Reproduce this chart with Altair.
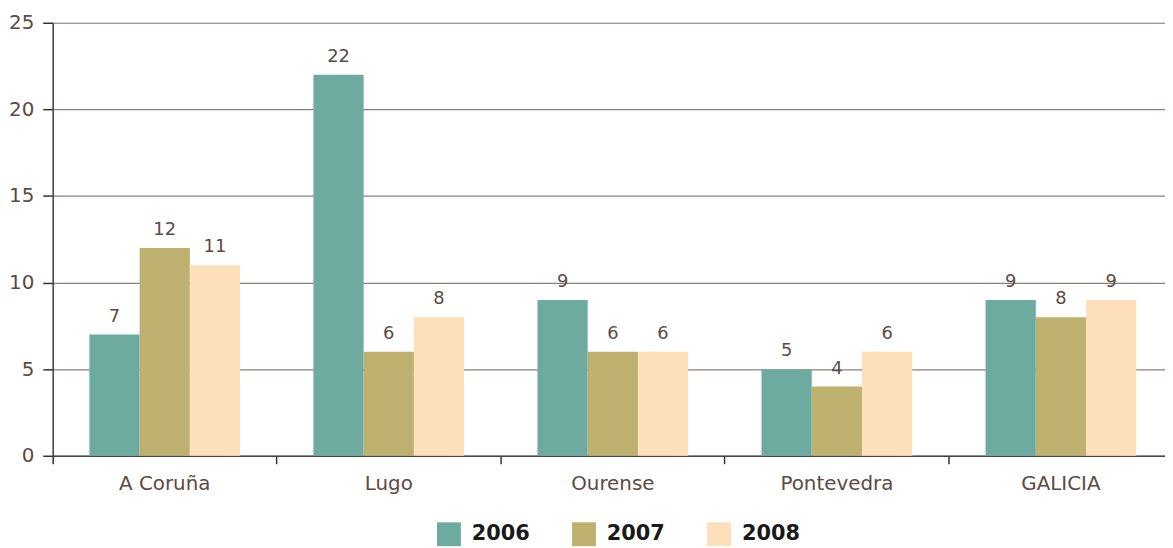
import altair as alt
import pandas as pd

regions = ["A Coruña", "Lugo", "Ourense", "Pontevedra", "GALICIA"]
years = ["2006", "2007", "2008"]
v2006 = [7, 22, 9, 5, 9]
v2007 = [12, 6, 6, 4, 8]
v2008 = [11, 8, 6, 6, 9]
colors = ["#6DAAA0", "#BEB06E", "#FDE0BA"]

rows = []
for yr, vals in zip(years, [v2006, v2007, v2008]):
    for r, v in zip(regions, vals):
        rows.append({"region": r, "year": yr, "value": v})
df = pd.DataFrame(rows)

W = 1120
H = 436
txt = "#5B4B43"
font = "DejaVu Sans"

x = alt.X(
    "region:N", sort=regions, title=None,
    scale=alt.Scale(paddingInner=0, paddingOuter=0, range=[0, 1128]),
    axis=alt.Axis(
        bandPosition=0, labelAngle=0,
        ticks=True, tickSize=8, tickColor="#333333", tickWidth=1.5,
        domain=True, domainColor="#444444", domainWidth=1.5,
        labelFont=font, labelFontSize=20, labelColor=txt, labelPadding=10,
        grid=False,
    ),
)
xo = alt.XOffset("year:N", sort=years, scale=alt.Scale(paddingInner=0, paddingOuter=0.73))
y = alt.Y(
    "value:Q", title=None,
    scale=alt.Scale(domain=[0, 25], nice=False),
    axis=alt.Axis(
        values=[0, 5, 10, 15, 20, 25], grid=True, gridColor="#8C7F78", gridWidth=1.2,
        domain=True, domainColor="#444444", domainWidth=1.5,
        ticks=True, tickSize=10, tickColor="#333333", tickWidth=1.5,
        labelFont=font, labelFontSize=20, labelColor=txt, labelPadding=9,
    ),
)
color = alt.Color(
    "year:N", sort=years,
    scale=alt.Scale(domain=years, range=colors),
    legend=alt.Legend(
        title=None, orient="none", direction="horizontal",
        legendX=387, legendY=503,
        symbolType="square", symbolSize=576, symbolStrokeWidth=0, symbolOpacity=1,
        labelFont=font, labelFontSize=21, labelFontWeight="bold", labelColor="#1A1A1A",
        labelOffset=11, columnPadding=42,
    ),
)

base = alt.Chart(df)
bars = base.mark_bar(opacity=1).encode(x=x, xOffset=xo, y=y, color=color)
labels = base.mark_text(
    baseline="bottom", dy=-9, font=font, fontSize=18, color=txt
).encode(x=x, xOffset=xo, y=y, text="value:Q")

chart = (
    alt.layer(bars, labels)
    .properties(
        width=W, height=H,
        autosize=alt.AutoSizeParams(type="none"),
        padding={"left": 45, "top": 13, "right": 0, "bottom": 91},
    )
    .configure_view(stroke=None)
    .configure(background="white")
)

chart.save("out.html", embed_options={"renderer": "svg", "actions": False})
